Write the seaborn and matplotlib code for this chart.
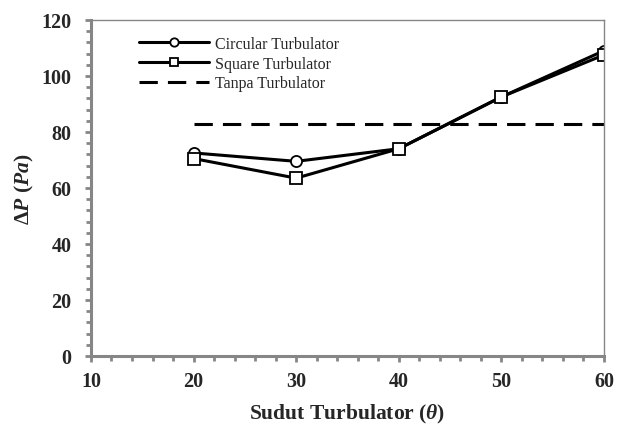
import matplotlib
matplotlib.use("Agg")
import matplotlib.pyplot as plt
import seaborn as sns
from matplotlib.ticker import MultipleLocator

# data
angle = [20, 30, 40, 50, 60]
circular = [72.5, 69.5, 74.0, 92.5, 109.0]
square = [70.5, 63.5, 74.0, 92.5, 107.5]
tanpa_x = [20, 60]
tanpa_y = [83, 83]

sns.set_style("white")
plt.rcParams['font.family'] = ['Liberation Serif', 'DejaVu Serif']
plt.rcParams['mathtext.fontset'] = 'custom'
plt.rcParams['mathtext.rm'] = 'Liberation Serif:bold'
plt.rcParams['mathtext.it'] = 'Liberation Serif:italic:bold'
plt.rcParams['mathtext.bf'] = 'Liberation Serif:bold'

fig = plt.figure(figsize=(6.21, 4.27), dpi=100)
ax = fig.add_axes([0.1465, 0.164, 0.826, 0.787])

mk = dict(markersize=8, markerfacecolor="white", markeredgecolor="black",
          markeredgewidth=1.3)
sns.lineplot(x=angle, y=circular, ax=ax, color="black", lw=2.2, marker="o",
             label="Circular Turbulator", **mk)
sns.lineplot(x=angle, y=square, ax=ax, color="black", lw=2.2, marker="s",
             label="Square Turbulator", **mk)
sns.lineplot(x=tanpa_x, y=tanpa_y, ax=ax, color="black", lw=2.2,
             label="Tanpa Turbulator")
ax.lines[-1].set_dashes((6, 3.3))

ax.set_xlim(10, 60)
ax.set_ylim(0, 120)
ax.xaxis.set_major_locator(MultipleLocator(10))
ax.xaxis.set_minor_locator(MultipleLocator(2))
ax.yaxis.set_major_locator(MultipleLocator(20))
ax.yaxis.set_minor_locator(MultipleLocator(4))

grey = "#868686"
for s in ["left", "bottom"]:
    ax.spines[s].set_color(grey)
    ax.spines[s].set_linewidth(2.2)
for s in ["top", "right"]:
    ax.spines[s].set_color(grey)
    ax.spines[s].set_linewidth(1.0)

ax.tick_params(which="major", direction="out", length=4, width=2, color=grey,
               bottom=True, left=True, labelsize=14.5)
ax.tick_params(axis="y", which="major", pad=10)
ax.tick_params(axis="x", which="major", pad=7)
ax.tick_params(which="minor", direction="out", length=3.5, width=2, color=grey,
               bottom=True, left=True)
for lab in ax.get_xticklabels() + ax.get_yticklabels():
    lab.set_fontweight("bold")

ax.set_xlabel(r"Sudut Turbulator ($\theta$)", fontsize=15.5, fontweight="bold", labelpad=8)
ax.set_ylabel(r"$\Delta P\ (Pa)$", fontsize=15.5, labelpad=4)

ax.legend(loc="upper left", bbox_to_anchor=(0.065, 0.995), frameon=False,
          fontsize=11.5, handlelength=4.4, labelspacing=0.23, handletextpad=0.4,
          markerscale=0.75)

plt.savefig("out.png", dpi=100)
plt.close()
